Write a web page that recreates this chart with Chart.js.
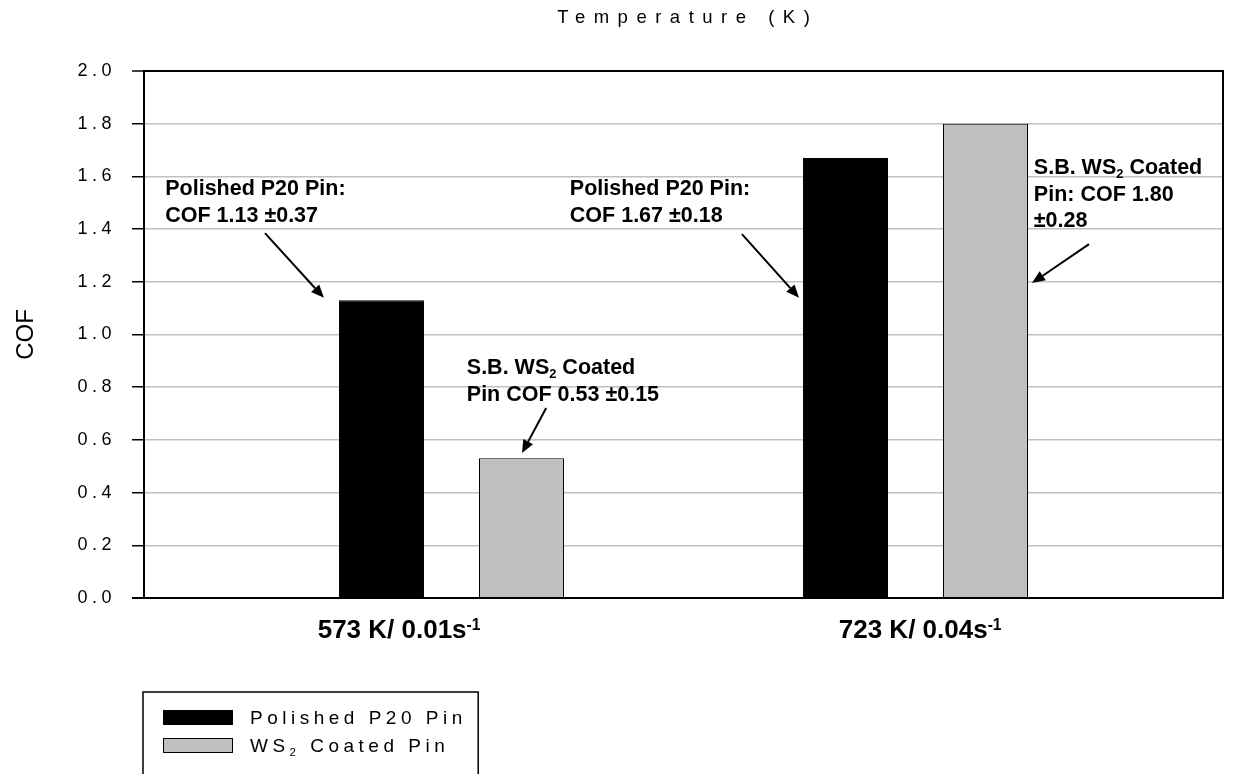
<!DOCTYPE html>
<html lang="en">
<head>
<meta charset="UTF-8">
<title>COF vs temperature</title>
<script src="https://cdn.jsdelivr.net/npm/chart.js"></script>
<style>
  body { margin: 0; background: #fff; }
  #wrap { width: 1235px; height: 774px; }
</style>
</head>
<body>
<div id="wrap"><canvas id="cof-chart" width="1235" height="774"></canvas></div>
<script>
// values ( _{..} = subscript, ^{..} = superscript )
const categories = ['573 K/ 0.01s^{-1}', '723 K/ 0.04s^{-1}'];
const seriesNames = ['Polished P20 Pin', 'WS_{2} Coated Pin'];
const polishedP20 = [1.13, 1.67];
const ws2Coated = [0.53, 1.80];
const seriesColors = ['#000000', '#c0c0c0'];
const yMax = 2.0;
const yStep = 0.2;
const xTitle = 'Temperature (K)';
const yTitle = 'COF';

// callouts, anchored in data units (x: category slot, y: COF)
const notes = [
  { x: 0.383, y: 1.529, lines: ['Polished P20 Pin:', 'COF 1.13 ±0.37'], from: [0.598, 1.385], to: [0.725, 1.139] },
  { x: 1.255, y: 1.529, lines: ['Polished P20 Pin:', 'COF 1.67 ±0.18'], from: [1.626, 1.381], to: [1.749, 1.139] },
  { x: 1.033, y: 0.850, lines: ['S.B. WS_{2} Coated', 'Pin COF 0.53 ±0.15'], from: [1.204, 0.721], to: [1.152, 0.550] },
  { x: 2.255, y: 1.609, lines: ['S.B. WS_{2} Coated', 'Pin: COF 1.80', '±0.28'], from: [2.374, 1.343], to: [2.251, 1.195] }
];

const FONT = '"Liberation Sans", Arial, Helvetica, sans-serif';
// the category labels do not sit exactly under the bar groups in the original
const labelShift = [-0.113, 0.010];

function parseRich(str) {
  const out = [];
  const re = /([_^])\{([^}]*)\}/g;
  let last = 0, m;
  while ((m = re.exec(str))) {
    if (m.index > last) out.push({ t: str.slice(last, m.index), k: '' });
    out.push({ t: m[2], k: m[1] });
    last = re.lastIndex;
  }
  if (last < str.length) out.push({ t: str.slice(last), k: '' });
  return out;
}

// draws text with sub/superscripts; y is the baseline
function drawRich(ctx, str, x, y, o) {
  const sp = o.spacing || 0;
  const segs = parseRich(str);
  const fontFor = k => (o.weight || 'normal') + ' ' + (k ? o.size * 0.6 : o.size) + 'px ' + FONT;
  ctx.save();
  ctx.textAlign = 'left';
  ctx.textBaseline = 'alphabetic';
  ctx.fillStyle = o.color || '#000';
  ctx.letterSpacing = '0px';
  let w = 0;
  segs.forEach(s => {
    ctx.font = fontFor(s.k);
    s.w = ctx.measureText(s.t).width + sp * [...s.t].length;
    w += s.w;
  });
  w -= sp;
  let cx = o.align === 'center' ? x - w / 2 : (o.align === 'right' ? x - w : x);
  ctx.letterSpacing = sp + 'px';
  segs.forEach(s => {
    ctx.font = fontFor(s.k);
    const dy = s.k === '_' ? o.size * 0.2 : (s.k === '^' ? -o.size * 0.3 : 0);
    ctx.fillText(s.t, cx, y + dy);
    cx += s.w;
  });
  ctx.restore();
  return x + w;
}

function arrow(ctx, x1, y1, x2, y2) {
  const a = Math.atan2(y2 - y1, x2 - x1);
  const head = 13, half = 5.5;
  ctx.save();
  ctx.strokeStyle = '#000';
  ctx.fillStyle = '#000';
  ctx.lineWidth = 2;
  ctx.beginPath();
  ctx.moveTo(x1, y1);
  ctx.lineTo(x2 - Math.cos(a) * head, y2 - Math.sin(a) * head);
  ctx.stroke();
  ctx.beginPath();
  ctx.moveTo(x2, y2);
  ctx.lineTo(x2 - Math.cos(a) * head - Math.sin(a) * half, y2 - Math.sin(a) * head + Math.cos(a) * half);
  ctx.lineTo(x2 - Math.cos(a) * head + Math.sin(a) * half, y2 - Math.sin(a) * head - Math.cos(a) * half);
  ctx.closePath();
  ctx.fill();
  ctx.restore();
}

const decor = {
  id: 'decor',
  beforeDraw(chart) {
    // spaced-out tick numbers like the original
    chart.ctx.letterSpacing = '4.5px';
  },
  afterDatasetsDraw(chart) {
    const { ctx, chartArea: a } = chart;
    ctx.save();
    ctx.strokeStyle = '#000';
    ctx.lineWidth = 2;
    ctx.beginPath();
    ctx.moveTo(a.left, a.top);
    ctx.lineTo(a.right, a.top);
    ctx.lineTo(a.right, a.bottom);
    ctx.lineTo(a.left - 12, a.bottom);
    ctx.stroke();
    ctx.restore();
  },
  afterDraw(chart) {
    const { ctx, chartArea: a } = chart;
    const xs = chart.scales.x, ys = chart.scales.y;
    ctx.letterSpacing = '0px';

    drawRich(ctx, xTitle, (a.left + a.right) / 2, 23, { size: 18.5, spacing: 8.5, align: 'center' });

    ctx.save();
    ctx.translate(24, (a.top + a.bottom) / 2);
    ctx.rotate(-Math.PI / 2);
    drawRich(ctx, yTitle, 0, 8.5, { size: 24, align: 'center' });
    ctx.restore();

    xs.ticks.forEach((t, i) => {
      drawRich(ctx, categories[i], xs.getPixelForValue(t.value), a.bottom + 40, { size: 26, weight: 'bold', align: 'center' });
    });

    notes.forEach(n => {
      const px = xs.getPixelForValue(n.x), py = ys.getPixelForValue(n.y);
      n.lines.forEach((l, j) => drawRich(ctx, l, px, py + j * 26.5, { size: 21.5, weight: 'bold' }));
      arrow(ctx, xs.getPixelForValue(n.from[0]), ys.getPixelForValue(n.from[1]),
                 xs.getPixelForValue(n.to[0]), ys.getPixelForValue(n.to[1]));
    });

    // boxed legend under the plot
    const lx = 143, ly = 692;
    let textEnd = 0;
    chart.data.datasets.forEach((ds, i) => {
      const base = 724 + i * 28;
      ctx.save();
      ctx.fillStyle = ds.backgroundColor;
      ctx.fillRect(163, base - 14, 70, 15);
      ctx.strokeStyle = '#000';
      ctx.lineWidth = 1;
      ctx.strokeRect(163.5, base - 13.5, 69, 14);
      ctx.restore();
      textEnd = Math.max(textEnd, drawRich(ctx, ds.label, 250, base, { size: 19, spacing: 4.5 }));
    });
    ctx.save();
    ctx.strokeStyle = '#000';
    ctx.lineWidth = 1.5;
    ctx.strokeRect(lx, ly, textEnd + 16 - lx, 200);
    ctx.restore();
  }
};

const isFrame = v => Math.abs(v) < 1e-9 || Math.abs(v - yMax) < 1e-9;

new Chart(document.getElementById('cof-chart'), {
  type: 'bar',
  data: {
    datasets: [
      {
        label: seriesNames[0],
        data: polishedP20.map((v, i) => ({ x: i + 1, y: v })),
        backgroundColor: seriesColors[0],
        borderColor: '#000',
        borderWidth: 1
      },
      {
        label: seriesNames[1],
        data: ws2Coated.map((v, i) => ({ x: i + 1, y: v })),
        backgroundColor: seriesColors[1],
        borderColor: '#000',
        borderWidth: 1
      }
    ]
  },
  options: {
    responsive: false,
    animation: false,
    categoryPercentage: 0.6034,
    barPercentage: 0.607,
    layout: { padding: { top: 71, right: 12, bottom: 176, left: 0 } },
    plugins: {
      legend: { display: false },
      tooltip: { enabled: false }
    },
    scales: {
      x: {
        type: 'linear',
        display: false,
        offset: false,
        min: 0.3373,
        max: 2.6627,
        afterBuildTicks: s => {
          s.ticks = categories.map((c, i) => ({ value: i + 1 + labelShift[i] }));
        },
        ticks: { callback: (v, i) => categories[i] }
      },
      y: {
        position: 'left',
        min: 0,
        max: yMax,
        afterFit: s => { s.width = 144; },
        ticks: {
          stepSize: yStep,
          padding: 16,
          color: '#000',
          font: { family: FONT, size: 18 },
          callback: v => v.toFixed(1)
        },
        grid: {
          color: c => isFrame(c.tick.value) ? '#000' : '#c0c0c0',
          lineWidth: c => isFrame(c.tick.value) ? 2 : 1.5,
          tickColor: '#000',
          tickLength: 12,
          tickWidth: 1.5
        },
        border: { color: '#000', width: 2 }
      }
    }
  },
  plugins: [decor]
});
</script>
</body>
</html>
